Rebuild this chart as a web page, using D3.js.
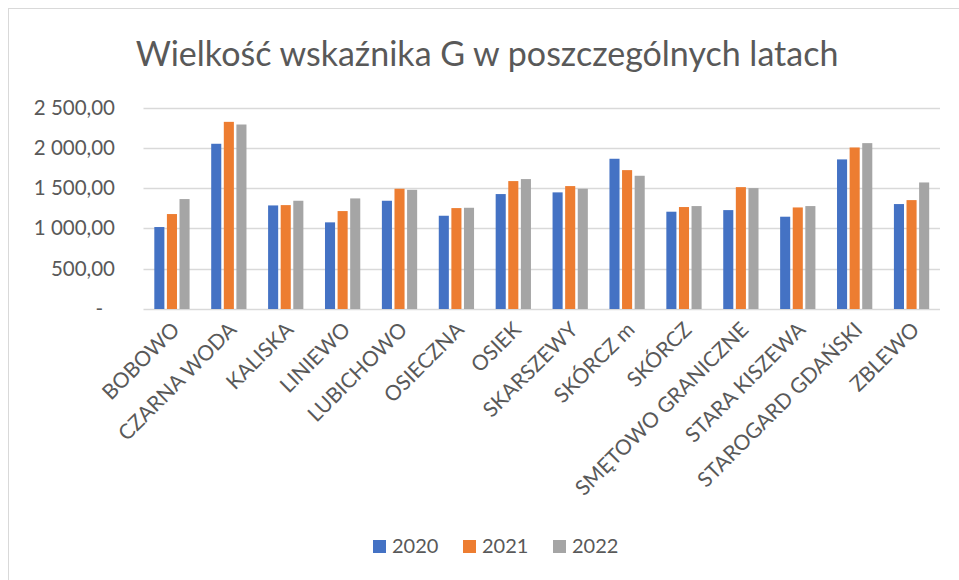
<!DOCTYPE html>
<html>
  <head>
    <meta charset="utf-8">
    <title>Wielkość wskaźnika G</title>
    <script src="https://d3js.org/d3.v7.min.js"></script>
    <style>
      body { margin: 0; background: #fff; }
      text { font-family: Lato, "Open Sans", sans-serif; fill: #595959; }
    </style>
  </head>
  <body>
    <script>
    // data
    var gminy = ["BOBOWO", "CZARNA WODA", "KALISKA", "LINIEWO", "LUBICHOWO", "OSIECZNA",
                 "OSIEK", "SKARSZEWY", "SKÓRCZ m", "SKÓRCZ", "SMĘTOWO GRANICZNE",
                 "STARA KISZEWA", "STAROGARD GDAŃSKI", "ZBLEWO"];
    var years = ["2020", "2021", "2022"];
    var v2020 = [1017, 2050, 1285, 1075, 1343, 1157, 1426, 1447, 1864, 1207, 1227, 1145, 1856, 1302];
    var v2021 = [1178, 2322, 1289, 1215, 1492, 1252, 1587, 1525, 1723, 1265, 1512, 1260, 2004, 1351];
    var v2022 = [1364, 2289, 1343, 1372, 1479, 1256, 1612, 1492, 1653, 1277, 1500, 1277, 2058, 1570];
    var yTicks = [0, 500, 1000, 1500, 2000, 2500];
    var colors = ["#4472C4", "#ED7D31", "#A5A5A5"];

    var series = [v2020, v2021, v2022];
    var W = 959, H = 580;

    var svg = d3.select("body").append("svg")
        .attr("width", W)
        .attr("height", H);

    // chart frame
    svg.append("rect")
        .attr("x", 8.5).attr("y", 8.5)
        .attr("width", W + 10).attr("height", H + 10)
        .attr("fill", "none")
        .attr("stroke", "#D9D9D9");

    var x0 = d3.scaleBand().domain(gminy).range([143.5, 940]);
    var x1 = d3.scaleBand().domain(years)
        .range([x0.bandwidth() * 0.19, x0.bandwidth() * 0.81])
        .paddingInner(0.2);
    var y = d3.scaleLinear().domain([0, 2500]).range([309, 107.5]);

    // gridlines
    svg.append("g").selectAll("line")
        .data(yTicks)
        .enter().append("line")
        .attr("x1", 143.5).attr("x2", 940)
        .attr("y1", function(d) { return Math.round(y(d)) + 0.5; })
        .attr("y2", function(d) { return Math.round(y(d)) + 0.5; })
        .attr("stroke", "#D9D9D9")
        .attr("stroke-width", 1.5);

    // y labels
    var fmt = function(d) {
        if (d === 0) return "-";
        var s = d.toFixed(2).replace(".", ",");
        var p = s.split(",");
        return p[0].replace(/\B(?=(\d{3})+(?!\d))/g, " ") + "," + p[1];
    };
    svg.append("g").selectAll("text")
        .data(yTicks)
        .enter().append("text")
        .attr("x", function(d) { return d === 0 ? 103 : 115; })
        .attr("y", function(d) { return y(d) + 7; })
        .attr("text-anchor", "end")
        .style("font-size", "20.5px")
        .text(fmt);

    // bars
    var groups = svg.append("g").selectAll("g")
        .data(gminy)
        .enter().append("g")
        .attr("transform", function(d) { return "translate(" + x0(d) + ",0)"; });

    groups.selectAll("rect")
        .data(function(d, i) {
            return years.map(function(yr, k) { return {year: yr, value: series[k][i], k: k}; });
        })
        .enter().append("rect")
        .attr("x", function(d) { return x1(d.year); })
        .attr("y", function(d) { return y(d.value); })
        .attr("width", x1.bandwidth())
        .attr("height", function(d) { return y(0) - y(d.value); })
        .attr("fill", function(d) { return colors[d.k]; });

    // category labels, rotated
    svg.append("g").selectAll("text")
        .data(gminy)
        .enter().append("text")
        .attr("text-anchor", "end")
        .attr("transform", function(d) {
            var cx = x0(d) + x0.bandwidth() / 2;
            return "translate(" + (cx + 9) + ",331) rotate(-45)";
        })
        .style("font-size", "21px")
        .text(function(d) { return d; });

    // title
    svg.append("text")
        .attr("x", 487)
        .attr("y", 66)
        .attr("text-anchor", "middle")
        .style("font-size", "34px")
        .text("Wielkość wskaźnika G w poszczególnych latach");

    // legend
    var legend = svg.append("g").selectAll("g")
        .data(years)
        .enter().append("g")
        .attr("transform", function(d, i) { return "translate(" + (373 + i * 90) + ",540)"; });
    legend.append("rect")
        .attr("width", 13).attr("height", 13)
        .attr("fill", function(d, i) { return colors[i]; });
    legend.append("text")
        .attr("x", 19).attr("y", 13)
        .style("font-size", "20px")
        .text(function(d) { return d; });
    </script>
  </body>
</html>
